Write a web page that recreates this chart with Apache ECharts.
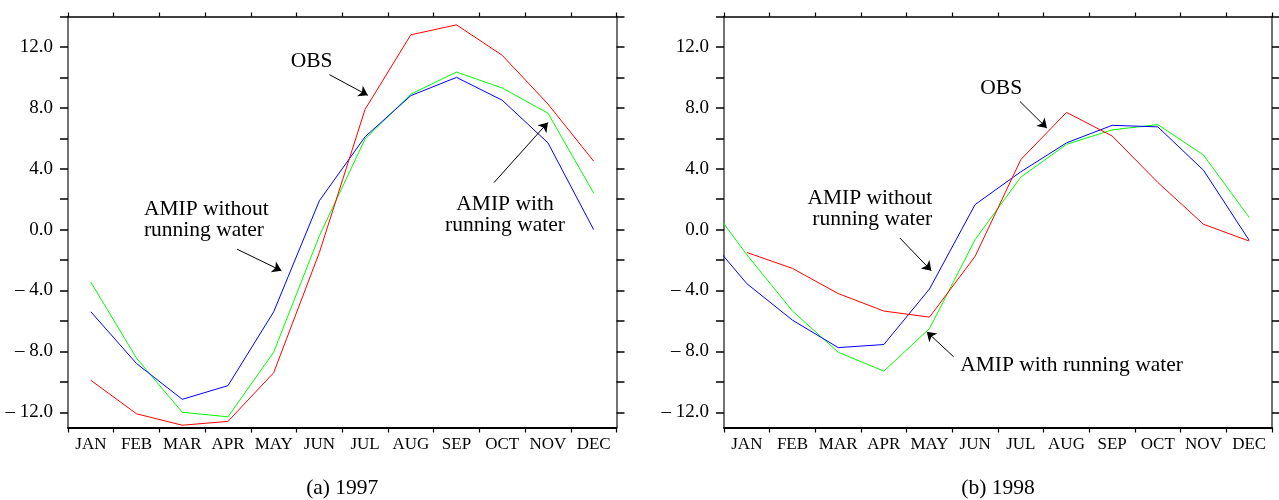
<!DOCTYPE html>
<html>
<head>
<meta charset="utf-8">
<script src="https://cdn.jsdelivr.net/npm/echarts@6/dist/echarts.min.js"></script>
<style>
html,body{margin:0;padding:0;background:#fff;}
#chart{width:1279px;height:500px;}
</style>
</head>
<body>
<div id="chart"></div>
<script>
// ---------- data ----------
const months = ['JAN','FEB','MAR','APR','MAY','JUN','JUL','AUG','SEP','OCT','NOV','DEC'];
const yTickValues = [-12, -8, -4, 0, 4, 8, 12];
const yMin = -13;
const yMax = 14;

const obs1997 = [-9.9, -12.1, -12.85, -12.6, -9.4, -1.5, 7.9, 12.8, 13.45, 11.45, 8.25, 4.5];
const withRunningWater1997 = [-3.45, -8.45, -12.0, -12.3, -8.05, -0.4, 5.95, 8.9, 10.35, 9.3, 7.65, 2.4];
const withoutRunningWater1997 = [-5.4, -8.8, -11.15, -10.25, -5.4, 1.9, 6.1, 8.8, 10.0, 8.5, 5.7, 0.0];

const obs1998 = [-1.5, -2.55, -4.2, -5.35, -5.75, -1.75, 4.6, 7.7, 6.15, 3.1, 0.35, -0.75];
const withRunningWater1998 = [-1.65, -5.35, -8.05, -9.3, -6.5, -0.65, 3.45, 5.6, 6.55, 6.9, 4.9, 0.8];
const withoutRunningWater1998 = [-3.55, -5.95, -7.75, -7.55, -3.9, 1.65, 3.8, 5.7, 6.85, 6.75, 3.9, -0.7];

const captions = ['(a) 1997', '(b) 1998'];

// ---------- layout / styles ----------
const FONT = "'Liberation Serif', 'Times New Roman', 'DejaVu Serif', serif";
const grids = [
  {left: 68, top: 16.5, width: 548.5, height: 411},
  {left: 724, top: 16.5, width: 548, height: 411}
];
const COLORS = {obs: '#ff0000', withRW: '#00ff00', withoutRW: '#0000ff'};

// annotations in data coordinates [month index, value]
const annotations = [
  {
    texts: [
      {text: 'OBS', coord: [5.83, 11.05], align: 'center'},
      {text: 'AMIP with\nrunning water', coord: [10.06, 0.99], align: 'center'},
      {text: 'AMIP without\nrunning water', coord: [2.16, 0.66], align: 'left'}
    ],
    arrows: [
      [[6.22, 10.18], [7.06, 8.82]],
      [[9.82, 3.09], [11.0, 7.04]],
      [[4.2, -1.29], [5.17, -2.7]]
    ]
  },
  {
    texts: [
      {text: 'OBS', coord: [6.57, 9.28], align: 'center'},
      {text: 'AMIP without\nrunning water', coord: [5.06, 1.38], align: 'right'},
      {text: 'AMIP with running water', coord: [8.11, -8.91], align: 'center'}
    ],
    arrows: [
      [[6.98, 8.42], [7.57, 6.67]],
      [[4.35, -0.55], [5.04, -2.7]],
      [[5.53, -8.36], [4.94, -6.71]]
    ]
  }
];

// ---------- build option ----------
const yCats = [];
for (let v = yMin; v <= yMax; v++) yCats.push(String(v));
const fmtY = v => {
  const n = Number(v);
  return (n < 0 ? '\u2013 ' : '') + Math.abs(n).toFixed(1);
};

const xAxes = [], yAxes = [], series = [], titles = [];

grids.forEach((g, gi) => {
  xAxes.push({
    type: 'category', gridIndex: gi, data: months, position: 'bottom', boundaryGap: true,
    axisLine: {onZero: false, lineStyle: {color: '#000', width: 2}},
    axisTick: {show: true, length: 5, lineStyle: {color: '#000', width: 1.2}},
    axisLabel: {fontFamily: FONT, fontSize: 17, color: '#000', margin: 9, interval: 0},
    splitLine: {show: false}
  });
  xAxes.push({
    type: 'category', gridIndex: gi, data: months, position: 'top', boundaryGap: true,
    axisLine: {onZero: false, lineStyle: {color: '#000', width: 1.5}},
    axisTick: {show: true, length: 4, lineStyle: {color: '#000', width: 1.2}},
    axisLabel: {show: false},
    splitLine: {show: false}
  });
  xAxes.push({type: 'value', gridIndex: gi, min: 0.5, max: 12.5, show: false,
    axisLine: {onZero: false}, splitLine: {show: false}});

  const tickEven = (i, v) => Number(v) % 2 === 0;
  const labelOn = (i, v) => yTickValues.indexOf(Number(v)) >= 0;
  yAxes.push({
    type: 'category', gridIndex: gi, data: yCats, position: 'left', boundaryGap: false,
    axisLine: {onZero: false, lineStyle: {color: '#444', width: 1.5}},
    axisTick: {show: true, length: 8, interval: tickEven, lineStyle: {color: '#000', width: 1.5}},
    axisLabel: {interval: labelOn, formatter: fmtY, fontFamily: FONT, fontSize: 19, color: '#000', margin: 15},
    splitLine: {show: false}
  });
  yAxes.push({
    type: 'category', gridIndex: gi, data: yCats, position: 'right', boundaryGap: false,
    axisLine: {onZero: false, lineStyle: {color: '#444', width: 1.5}},
    axisTick: {show: true, length: 8, interval: tickEven, lineStyle: {color: '#000', width: 1.5}},
    axisLabel: {show: false},
    splitLine: {show: false}
  });
  yAxes.push({type: 'value', gridIndex: gi, min: yMin, max: yMax, show: false,
    axisLine: {onZero: false}, splitLine: {show: false}});

  titles.push({
    text: captions[gi], left: g.left + g.width / 2, top: 477, textAlign: 'center', padding: 0,
    textStyle: {fontFamily: FONT, fontSize: 21.5, fontWeight: 'normal', color: '#000'}
  });
});

const panelData = [
  {obs: obs1997, withRW: withRunningWater1997, withoutRW: withoutRunningWater1997, prev: null},
  {obs: obs1998, withRW: withRunningWater1998, withoutRW: withoutRunningWater1998,
   prev: {withRW: withRunningWater1997[11], withoutRW: withoutRunningWater1997[11]}}
];

panelData.forEach((p, gi) => {
  const axisIdx = gi * 3 + 2;
  const toPts = (arr, prevVal) => {
    const pts = arr.map((v, i) => [i + 1, v]);
    if (prevVal !== undefined && prevVal !== null) pts.unshift([0, prevVal]);
    return pts;
  };
  const ann = annotations[gi];
  const base = {
    type: 'line', xAxisIndex: axisIdx, yAxisIndex: axisIdx, symbol: 'none', showSymbol: false,
    animation: false, clip: true, silent: true
  };
  series.push(Object.assign({}, base, {
    name: 'AMIP with running water', data: toPts(p.withRW, p.prev ? p.prev.withRW : null),
    lineStyle: {color: COLORS.withRW, width: 1}, itemStyle: {color: COLORS.withRW}
  }));
  series.push(Object.assign({}, base, {
    name: 'AMIP without running water', data: toPts(p.withoutRW, p.prev ? p.prev.withoutRW : null),
    lineStyle: {color: COLORS.withoutRW, width: 1}, itemStyle: {color: COLORS.withoutRW}
  }));
  series.push(Object.assign({}, base, {
    name: 'OBS', data: toPts(p.obs, null),
    lineStyle: {color: COLORS.obs, width: 1}, itemStyle: {color: COLORS.obs},
    markPoint: {
      symbol: 'rect', symbolSize: 1, silent: true, animation: false,
      itemStyle: {color: 'rgba(0,0,0,0)'},
      label: {show: true, position: 'inside', color: '#000', fontFamily: FONT, fontSize: 21.5, lineHeight: 21},
      data: ann.texts.map(t => ({
        coord: t.coord, value: 0,
        label: {formatter: t.text, align: t.align, verticalAlign: 'middle'}
      }))
    },
    markLine: {
      symbol: ['none', 'arrow'], symbolSize: 9, silent: true, animation: false,
      label: {show: false},
      lineStyle: {color: '#000', width: 1, type: 'solid'},
      emphasis: {disabled: true},
      data: ann.arrows.map(a => [{coord: a[0]}, {coord: a[1]}])
    }
  }));
});

const option = {
  backgroundColor: '#fff',
  animation: false,
  title: titles,
  grid: grids.map(g => Object.assign({containLabel: false, outerBoundsMode: 'none'}, g)),
  xAxis: xAxes,
  yAxis: yAxes,
  series: series
};

const chart = echarts.init(document.getElementById('chart'), null, {renderer: 'canvas'});
chart.setOption(option);
</script>
</body>
</html>
